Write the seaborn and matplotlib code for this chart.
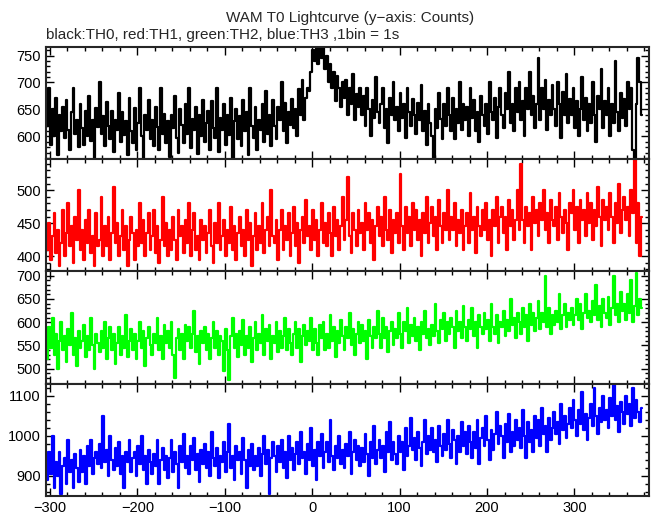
import numpy as np
import matplotlib
matplotlib.use("Agg")
import matplotlib.pyplot as plt
from matplotlib.ticker import MultipleLocator, AutoMinorLocator
import seaborn as sns

# bins de 2 s, desde -303 s hasta 377 s
time_s = np.arange(-303, 378, 2)

# TH0 (negro)
th0 = [
    620, 690, 585, 650, 600, 672, 565, 640, 610, 655,
    598, 668, 612, 575, 645, 690, 605, 630, 580, 660,
    615, 585, 648, 600, 675, 592, 630, 560, 652, 618,
    700, 605, 638, 582, 664, 620, 595, 648, 572, 630,
    612, 680, 590, 645, 603, 628, 566, 672, 610, 588,
    652, 575, 625, 690, 600, 560, 640, 612, 668, 595,
    630, 583, 655, 618, 574, 690, 605, 642, 588, 628,
    562, 640, 615, 675, 598, 570, 650, 622, 588, 660,
    605, 690, 578, 632, 612, 655, 568, 640, 600, 668,
    590, 625, 648, 575, 665, 615, 598, 690, 572, 635,
    612, 660, 585, 640, 602, 672, 560, 628, 650, 595,
    638, 582, 668, 610, 645, 565, 690, 620, 598, 655,
    575, 630, 612, 660, 590, 685, 605, 640, 582, 668,
    620, 595, 655, 630, 700, 610, 662, 588, 645, 622,
    670, 615, 650, 600, 688, 640, 705, 630, 672, 690,
    685, 720, 760, 740, 790, 735, 770, 745, 780, 725,
    750, 700, 735, 690, 720, 665, 712, 690, 655, 700,
    672, 705, 640, 690, 660, 715, 630, 678, 655, 690,
    640, 675, 620, 690, 650, 600, 668, 635, 710, 645,
    625, 660, 690, 615, 650, 588, 672, 640, 700, 630,
    655, 610, 680, 635, 660, 598, 690, 645, 620, 670,
    640, 605, 662, 630, 695, 610, 648, 585, 660, 625,
    600, 555, 650, 615, 680, 632, 595, 660, 620, 690,
    640, 610, 672, 595, 650, 625, 700, 612, 660, 630,
    655, 600, 690, 635, 668, 610, 645, 590, 675, 640,
    620, 660, 605, 700, 645, 630, 672, 598, 655, 690,
    640, 615, 680, 650, 720, 625, 660, 610, 690, 645,
    700, 630, 665, 600, 690, 650, 720, 640, 675, 615,
    660, 745, 630, 690, 650, 705, 612, 668, 640, 695,
    650, 620, 700, 660, 598, 682, 640, 715, 625, 670,
    640, 690, 615, 665, 600, 650, 710, 630, 672, 610,
    660, 625, 700, 640, 590, 675, 650, 725, 615, 665,
    640, 690, 600, 660, 625, 740, 645, 610, 680, 635,
    670, 620, 700, 650, 690, 575, 545, 660, 745, 700,
    640,
]

# TH1 (rojo)
th1 = [
    410, 450, 395, 430, 465, 405, 440, 385, 420, 470,
    400, 435, 480, 415, 445, 390, 460, 425, 500, 410,
    440, 395, 455, 420, 470, 405, 430, 385, 465, 415,
    425, 490, 400, 445, 415, 460, 395, 435, 505, 420,
    450, 400, 430, 470, 410, 445, 385, 425, 460, 435,
    395, 440, 415, 480, 420, 455, 400, 435, 465, 410,
    430, 470, 405, 445, 390, 425, 490, 415, 450, 400,
    440, 410, 460, 425, 395, 470, 430, 445, 405, 455,
    420, 480, 400, 440, 465, 410, 430, 395, 455, 425,
    445, 405, 435, 470, 415, 390, 450, 420, 480, 410,
    430, 455, 400, 440, 420, 475, 410, 445, 395, 435,
    460, 415, 440, 400, 470, 425, 450, 385, 430, 465,
    410, 445, 420, 480, 405, 440, 460, 415, 500, 430,
    420, 455, 395, 440, 470, 410, 445, 425, 465, 400,
    435, 475, 415, 450, 390, 440, 460, 420, 485, 430,
    445, 410, 470, 425, 455, 400, 440, 480, 420, 450,
    415, 465, 435, 400, 475, 430, 455, 410, 445, 490,
    425, 455, 520, 430, 405, 465, 440, 415, 470, 435,
    450, 410, 480, 440, 465, 420, 455, 395, 445, 475,
    430, 460, 415, 490, 440, 425, 470, 405, 455, 435,
    465, 420, 525, 445, 410, 475, 435, 460, 415, 480,
    440, 470, 425, 455, 400, 465, 435, 490, 420, 450,
    475, 430, 460, 410, 485, 445, 420, 465, 440, 500,
    425, 460, 440, 480, 415, 455, 435, 470, 410, 445,
    465, 420, 495, 440, 460, 405, 475, 445, 430, 470,
    440, 480, 425, 455, 400, 470, 445, 490, 420, 460,
    475, 435, 460, 410, 485, 445, 470, 425, 455, 500,
    440, 540, 455, 420, 475, 445, 465, 410, 490, 450,
    470, 430, 480, 455, 500, 440, 465, 420, 485, 455,
    445, 475, 425, 495, 460, 435, 470, 450, 410, 480,
    465, 500, 440, 475, 420, 485, 455, 470, 430, 495,
    450, 480, 425, 470, 445, 505, 460, 415, 485, 455,
    475, 440, 495, 460, 420, 480, 450, 510, 435, 470,
    490, 455, 475, 430, 500, 465, 545, 420, 480, 400,
    460,
]

# TH2 (verde)
th2 = [
    520, 590, 545, 610, 530, 575, 500, 560, 600, 540,
    570, 515, 585, 550, 620, 530, 565, 505, 580, 545,
    560, 595, 525, 570, 540, 610, 550, 500, 575, 555,
    535, 580, 545, 600, 520, 565, 590, 540, 575, 510,
    555, 590, 530, 570, 545, 615, 525, 560, 585, 540,
    575, 520, 560, 600, 545, 580, 505, 565, 590, 550,
    530, 575, 555, 610, 540, 570, 520, 595, 555, 580,
    545, 600, 530, 480, 565, 585, 540, 575, 520, 595,
    560, 590, 545, 575, 625, 535, 570, 510, 580, 555,
    590, 540, 575, 520, 565, 600, 545, 580, 530, 570,
    560, 495, 585, 540, 475, 570, 610, 545, 575, 525,
    580, 550, 605, 530, 570, 545, 590, 515, 565, 600,
    540, 575, 555, 615, 530, 585, 560, 595, 520, 570,
    555, 600, 535, 580, 545, 570, 610, 540, 585, 555,
    530, 575, 600, 545, 585, 515, 570, 595, 550, 580,
    560, 610, 540, 585, 555, 530, 595, 565, 600, 540,
    575, 545, 615, 560, 590, 525, 580, 555, 605, 570,
    540, 590, 565, 620, 550, 585, 530, 575, 600, 555,
    595, 560, 580, 520, 605, 570, 545, 590, 565, 625,
    575, 545, 610, 565, 590, 535, 580, 600, 550, 585,
    565, 620, 575, 545, 600, 580, 630, 555, 595, 570,
    610, 560, 590, 540, 600, 575, 625, 565, 585, 550,
    595, 570, 640, 580, 555, 605, 585, 620, 560, 600,
    575, 610, 590, 545, 625, 580, 600, 565, 635, 590,
    560, 605, 585, 630, 570, 600, 545, 615, 590, 575,
    620, 585, 605, 560, 640, 590, 575, 615, 555, 600,
    590, 625, 570, 605, 580, 650, 595, 610, 565, 620,
    600, 575, 630, 590, 615, 560, 640, 595, 620, 580,
    610, 645, 585, 620, 600, 700, 590, 630, 575, 615,
    595, 625, 600, 660, 585, 615, 640, 590, 620, 605,
    630, 595, 615, 650, 605, 640, 585, 620, 660, 610,
    625, 600, 645, 615, 680, 605, 635, 590, 650, 620,
    610, 655, 595, 630, 700, 615, 640, 600, 665, 625,
    640, 605, 660, 620, 690, 600, 635, 705, 615, 650,
    630,
]

# TH3 (azul)
th3 = [
    890, 960, 905, 1000, 870, 935, 900, 960, 855, 925,
    945, 880, 990, 910, 940, 870, 955, 920, 885, 965,
    910, 950, 880, 975, 925, 990, 905, 945, 960, 930,
    980, 920, 1050, 935, 965, 900, 1000, 940, 915, 970,
    925, 985, 905, 950, 870, 960, 935, 990, 910, 945,
    960, 900, 975, 930, 1000, 915, 950, 880, 965, 935,
    905, 955, 925, 990, 880, 940, 970, 915, 950, 895,
    945, 990, 910, 960, 930, 870, 975, 935, 1005, 920,
    950, 905, 975, 940, 995, 915, 955, 885, 965, 930,
    980, 920, 960, 900, 1010, 945, 925, 970, 895, 950,
    935, 985, 910, 960, 1030, 920, 950, 890, 975, 940,
    960, 905, 995, 940, 870, 965, 925, 980, 915, 950,
    925, 970, 900, 955, 1000, 930, 965, 855, 945, 985,
    950, 910, 975, 935, 990, 920, 960, 895, 1000, 940,
    970, 915, 955, 985, 930, 1010, 945, 960, 905, 980,
    940, 1020, 925, 965, 890, 985, 950, 1005, 920, 960,
    985, 935, 1040, 950, 915, 975, 945, 1000, 930, 965,
    920, 980, 950, 1010, 905, 960, 990, 940, 975, 925,
    970, 935, 1005, 955, 900, 985, 945, 1025, 930, 965,
    990, 945, 975, 910, 1010, 960, 1035, 940, 985, 955,
    930, 1000, 960, 985, 915, 1020, 950, 975, 1045, 965,
    995, 940, 1010, 970, 925, 985, 1040, 955, 1000, 965,
    1020, 960, 990, 935, 1025, 975, 950, 1005, 965, 1040,
    980, 945, 1015, 990, 930, 1000, 960, 1035, 975, 1010,
    955, 1025, 985, 945, 1010, 970, 1040, 930, 995, 1020,
    975, 1050, 990, 940, 1015, 965, 1005, 1060, 980, 1025,
    1000, 945, 1030, 985, 1055, 960, 1010, 975, 1040, 990,
    1020, 970, 1065, 1000, 945, 1035, 985, 1015, 960, 1050,
    995, 1040, 975, 1070, 1005, 1025, 960, 1045, 990, 1020,
    1060, 1005, 1035, 980, 1080, 1015, 1050, 995, 1030, 1070,
    1020, 1090, 1040, 1000, 1065, 1030, 1110, 1015, 1055, 990,
    1045, 1080, 1025, 1120, 1050, 1005, 1070, 1035, 1100, 1040,
    1065, 1020, 1095, 1050, 1130, 1040, 1075, 1010, 1085, 1060,
    1030, 1100, 1055, 1080, 1025, 1120, 1045, 1090, 1060, 1035,
    1070,
]

series = [th0, th1, th2, th3]
colors = ["black", "#ff0000", "#00ff00", "#0000ff"]
ylims = [(558, 766), (377, 547), (468, 709), (850, 1130)]
ymajor = [50, 50, 50, 100]

sns.set_style("ticks")
plt.rcParams["font.family"] = ["Liberation Sans", "DejaVu Sans"]

fig, axes = plt.subplots(4, 1, figsize=(6.52, 5.15), dpi=100, sharex=True)
fig.subplots_adjust(left=0.07, right=0.995, bottom=0.037, top=0.909, hspace=0)

for ax, y, c, yl, ym in zip(axes, series, colors, ylims, ymajor):
    sns.lineplot(x=time_s, y=y, ax=ax, color=c, lw=1.6, drawstyle="steps-mid")
    ax.set_xlim(-305, 385)
    ax.set_ylim(*yl)
    ax.xaxis.set_major_locator(MultipleLocator(100))
    ax.xaxis.set_minor_locator(MultipleLocator(20))
    ax.yaxis.set_major_locator(MultipleLocator(ym))
    ax.yaxis.set_minor_locator(AutoMinorLocator(5))
    ax.tick_params(which="both", direction="in", top=True, right=True,
                   labelsize=10.5, width=1, colors="black")
    ax.tick_params(which="major", length=6)
    ax.tick_params(which="minor", length=3)
    for s in ax.spines.values():
        s.set_linewidth(1.5)
    ax.set_xlabel("")
    ax.set_ylabel("")

fig.text(0.537, 0.965, "WAM T0 Lightcurve (y\u2212axis: Counts)", ha="center", va="center", fontsize=11)
fig.text(0.07, 0.932, "black:TH0, red:TH1, green:TH2, blue:TH3 ,1bin = 1s", ha="left", va="center", fontsize=11)

fig.savefig("out.png", dpi=100)
